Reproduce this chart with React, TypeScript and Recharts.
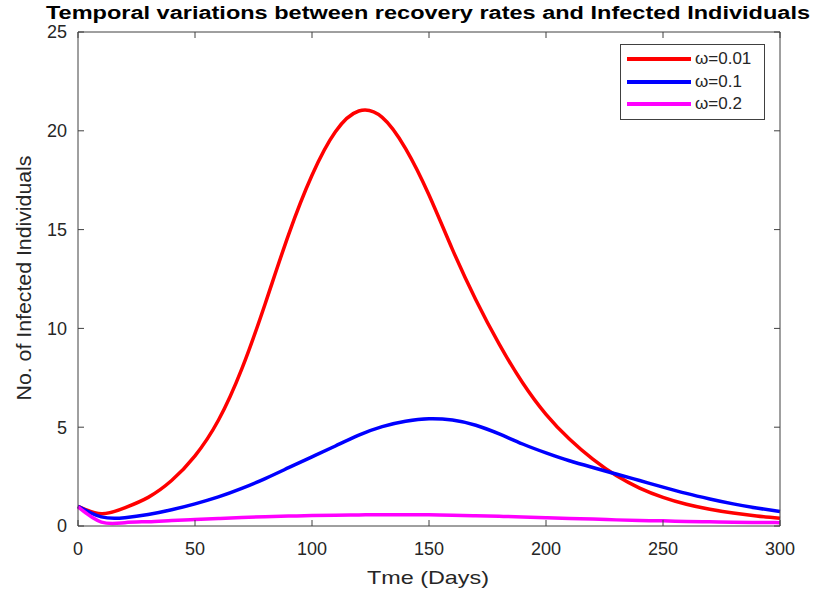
import { LineChart, Line, XAxis, YAxis, Legend, Label } from 'recharts';

// time in days
const days = [0, 10, 20, 30, 40, 50, 60, 70, 80, 90, 100, 110, 120, 130, 140, 150, 160, 170, 180, 190, 200, 210, 220, 230, 240, 250, 260, 270, 280, 290, 300];

// infected individuals for each recovery rate
const infectedW001 = [1.0, 0.62, 0.92, 1.45, 2.3, 3.55, 5.35, 7.95, 11.25, 14.75, 17.75, 19.95, 21.0, 20.68, 19.1, 16.75, 14.0, 11.45, 9.2, 7.25, 5.65, 4.4, 3.38, 2.55, 1.92, 1.45, 1.1, 0.85, 0.66, 0.51, 0.39];
const infectedW01 = [1.0, 0.46, 0.42, 0.58, 0.82, 1.12, 1.47, 1.9, 2.4, 2.95, 3.5, 4.05, 4.6, 5.03, 5.3, 5.43, 5.36, 5.1, 4.66, 4.15, 3.7, 3.3, 2.96, 2.63, 2.3, 1.97, 1.65, 1.37, 1.12, 0.91, 0.73];
const infectedW02 = [0.97, 0.2, 0.17, 0.22, 0.28, 0.33, 0.38, 0.43, 0.47, 0.5, 0.53, 0.55, 0.56, 0.57, 0.57, 0.57, 0.55, 0.52, 0.49, 0.46, 0.42, 0.38, 0.35, 0.31, 0.28, 0.26, 0.23, 0.21, 0.19, 0.18, 0.17];

const seriesNames = ['ω=0.01', 'ω=0.1', 'ω=0.2'];
const xTicks = [0, 50, 100, 150, 200, 250, 300];
const yTicks = [0, 5, 10, 15, 20, 25];

const rows = days.map((d, i) => ({
  day: d,
  w001: infectedW001[i],
  w01: infectedW01[i],
  w02: infectedW02[i],
}));

const axisColor = '#404040';
const tickStyle = { fill: '#262626', fontSize: 18 };
const noLabel = () => <g />;

const LegendBox = ({ payload }: any) => (
  <div style={{ border: `1px solid ${axisColor}`, background: '#fff', padding: '3px 0 3px 6px', boxSizing: 'border-box', width: 145, height: 76 }}>
    {(payload || []).filter((p: any) => p.type !== 'none').map((p: any) => (
      <div key={p.value} style={{ display: 'flex', alignItems: 'center', height: 22.5 }}>
        <span style={{ display: 'inline-block', width: 64, height: 4, background: p.color, marginRight: 4 }} />
        <span style={{ fontSize: 17, color: '#262626' }}>{p.value}</span>
      </div>
    ))}
  </div>
);

export default function App() {
  return (
    <div style={{ position: 'absolute', left: 0, top: 0, width: 815, height: 592, background: '#fff', fontFamily: '"Liberation Sans", Arial, sans-serif' }}>
      <LineChart width={815} height={592} data={rows} margin={{ top: 31, right: 34, bottom: 26, left: 0 }}>
        <XAxis dataKey="day" type="number" domain={[0, 300]} ticks={xTicks} height={40}
          stroke={axisColor} tick={tickStyle} tickSize={-6} tickMargin={22} interval={0}>
          <Label content={() => (
            <text x={428} y={584} textAnchor="middle" fontSize={19} fill="#262626" textLength={122} lengthAdjust="spacingAndGlyphs">Tme (Days)</text>
          )} />
        </XAxis>
        {/* top and right axes only close the box (height/width must be > 0 to render) */}
        <XAxis xAxisId="top" dataKey="day" orientation="top" type="number" domain={[0, 300]} ticks={xTicks} height={1}
          stroke={axisColor} tick={noLabel} tickSize={-6} interval={0}>
          <Label content={() => (
            <text x={428} y={19} textAnchor="middle" fontSize={18} fontWeight="bold" fill="#000" textLength={764} lengthAdjust="spacingAndGlyphs">
              Temporal variations between recovery rates and Infected Individuals
            </text>
          )} />
        </XAxis>
        <YAxis type="number" domain={[0, 25]} ticks={yTicks} width={78}
          stroke={axisColor} tick={tickStyle} tickSize={-6} tickMargin={17} interval={0}>
          <Label content={() => (
            <text x={31} y={278} transform="rotate(-90 31 278)" textAnchor="middle" fontSize={20} fill="#262626" textLength={245} lengthAdjust="spacingAndGlyphs">
              No. of Infected Individuals
            </text>
          )} />
        </YAxis>
        <YAxis yAxisId="right" orientation="right" type="number" domain={[0, 25]} ticks={yTicks} width={1}
          stroke={axisColor} tick={noLabel} tickSize={-6} interval={0} />
        <Legend content={<LegendBox />} layout="vertical" align="center" verticalAlign="middle"
          wrapperStyle={{ left: 620, top: 44, width: 145 }} />
        <Line xAxisId="top" yAxisId="right" dataKey="w02" stroke="none" dot={false} legendType="none" isAnimationActive={false} />
        <Line type="natural" dataKey="w001" name={seriesNames[0]} stroke="#ff0000" strokeWidth={3.5} dot={false} isAnimationActive={false} />
        <Line type="natural" dataKey="w01" name={seriesNames[1]} stroke="#0000ff" strokeWidth={3.5} dot={false} isAnimationActive={false} />
        <Line type="natural" dataKey="w02" name={seriesNames[2]} stroke="#ff00ff" strokeWidth={3.5} dot={false} isAnimationActive={false} />
      </LineChart>
    </div>
  );
}
